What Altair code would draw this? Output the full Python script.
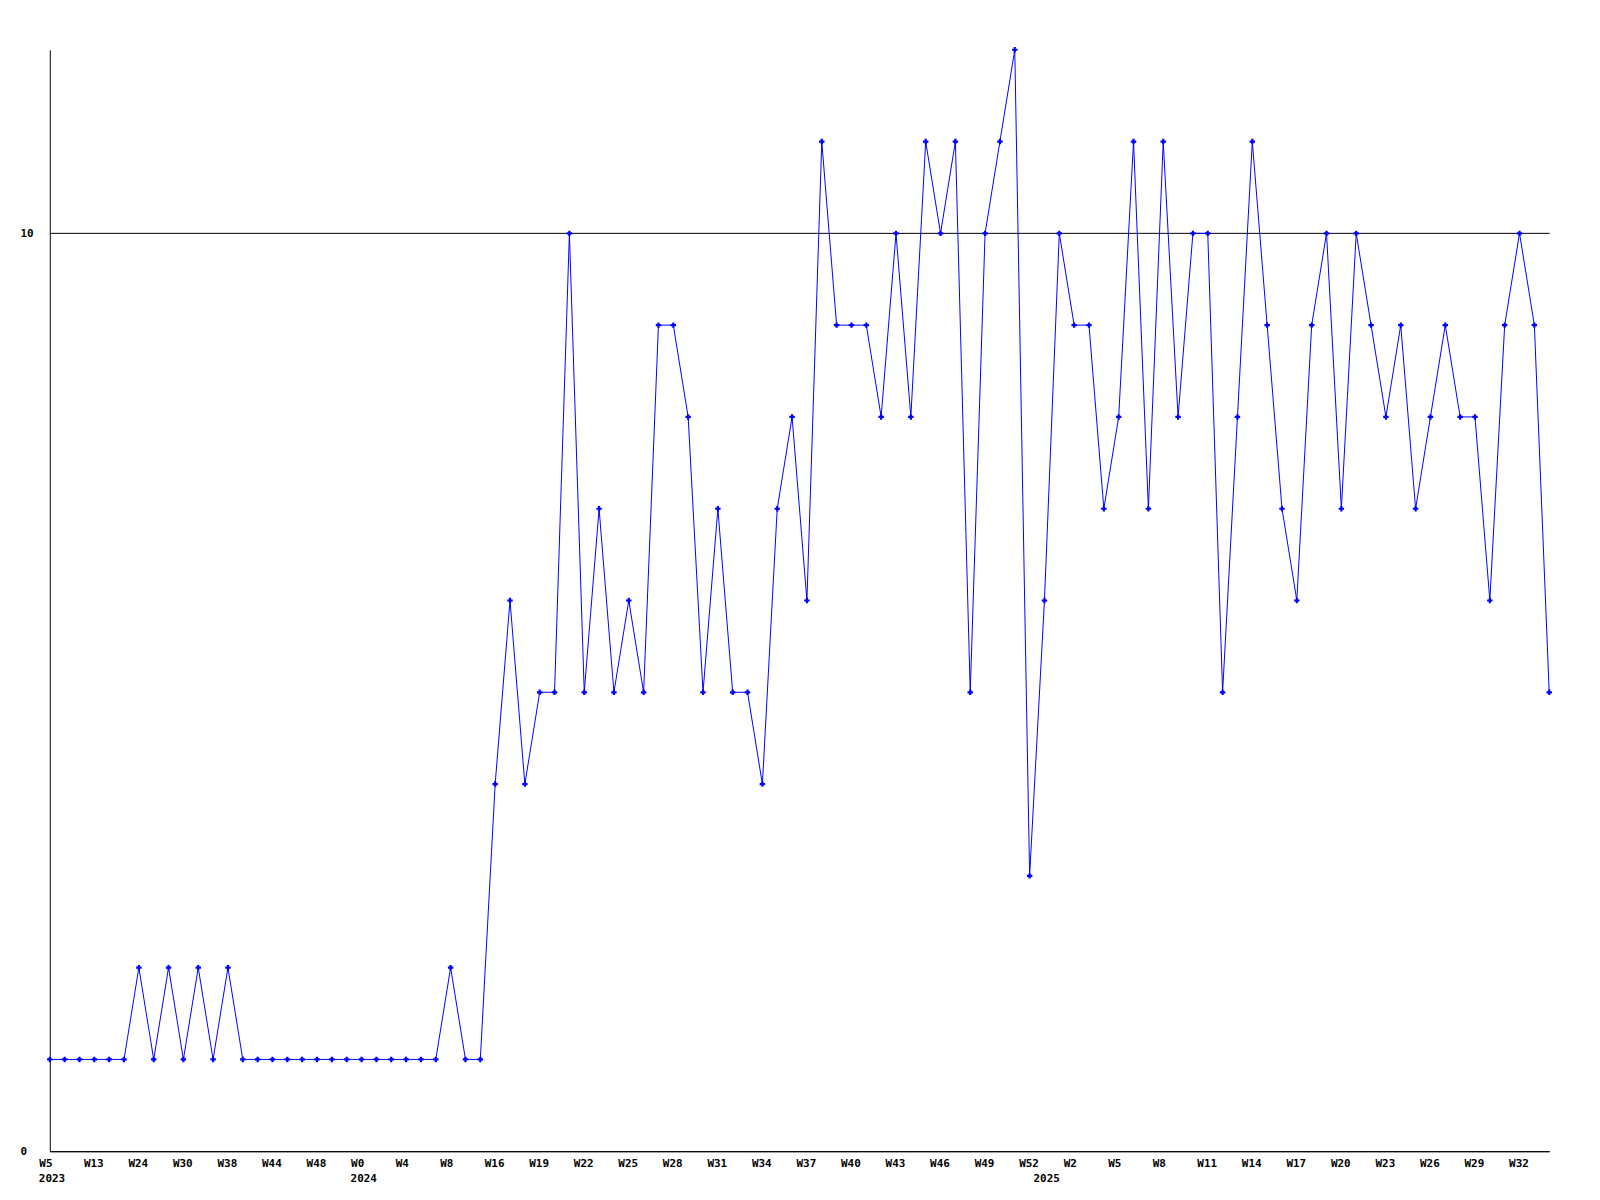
import altair as alt
import pandas as pd

# values, one per plotted point (index 0..101)
values = [1, 1, 1, 1, 1, 1, 2, 1, 2, 1, 2, 1, 2, 1, 1, 1, 1, 1, 1, 1,
          1, 1, 1, 1, 1, 1, 1, 2, 1, 1, 4, 6, 4, 5, 5, 10, 5, 7, 5, 6,
          5, 9, 9, 8, 5, 7, 5, 5, 4, 7, 8, 6, 11, 9, 9, 9, 8, 10, 8, 11,
          10, 11, 5, 10, 11, 12, 3, 6, 10, 9, 9, 7, 8, 11, 7, 11, 8, 10, 10, 5,
          8, 11, 9, 7, 6, 9, 10, 7, 10, 9, 8, 9, 7, 8, 9, 8, 8, 6, 9, 10,
          9, 5]

week_labels = ["W5", "W13", "W24", "W30", "W38", "W44", "W48", "W0", "W4", "W8",
               "W16", "W19", "W22", "W25", "W28", "W31", "W34", "W37", "W40", "W43",
               "W46", "W49", "W52", "W2", "W5", "W8", "W11", "W14", "W17", "W20",
               "W23", "W26", "W29", "W32"]
label_step = 3

year_labels = ["2023", "2024", "2025"]
year_positions = [0, 21, 67]

df = pd.DataFrame({"i": list(range(len(values))), "v": values})
years = pd.DataFrame({"i": year_positions, "t": year_labels})

W, H = 1507, 1107
FONT = "DejaVu Sans Mono"

label_arr = "[" + ",".join("'%s'" % s for s in week_labels) + "]"
tick_vals = [k * label_step for k in range(len(week_labels))]

x_scale = alt.Scale(domain=[0, len(values) - 1], nice=False, zero=False)
y_scale = alt.Scale(domain=[0, 12], nice=False)

x_axis = alt.Axis(values=tick_vals, labelExpr=label_arr + "[round(datum.value/3)]",
                  grid=False, ticks=False, domainColor="black", domainWidth=1,
                  labelFont=FONT, labelFontWeight="bold", labelFontSize=11,
                  labelColor="black", labelPadding=6, labelAngle=0,
                  labelAlign="left", labelOffset=-11, labelBaseline="top",
                  labelOverlap=False, labelFlush=False, title=None)
y_axis = alt.Axis(values=[0, 10], grid=True, gridColor="black", gridOpacity=1,
                  gridWidth=1, ticks=False, domainColor="black", domainWidth=1,
                  labelFont=FONT, labelFontWeight="bold", labelFontSize=11,
                  labelColor="black", labelAlign="left", labelPadding=30,
                  labelBaseline="middle", title=None)

base = alt.Chart(df).encode(
    x=alt.X("i:Q", scale=x_scale, axis=x_axis),
    y=alt.Y("v:Q", scale=y_scale, axis=y_axis),
)

line = base.mark_line(color="#0000ff", strokeWidth=1)
pts = base.mark_point(shape="cross", filled=True, color="#0000ff", size=30, opacity=1)

yr = alt.Chart(years).mark_text(font=FONT, fontWeight="bold", fontSize=11,
                                color="black", baseline="top", align="left", dx=-11).encode(
    x=alt.X("i:Q", scale=x_scale),
    y=alt.value(H + 22),
    text="t:N",
)

chart = alt.layer(line, pts, yr).properties(
    width=W, height=H,
    background="white",
    autosize=alt.AutoSizeParams(type="none"),
    padding={"left": 42, "top": 39, "right": 43, "bottom": 40},
).configure_view(strokeWidth=0, stroke="transparent")

chart.save("out.html", embed_options={"renderer": "svg", "actions": False})
